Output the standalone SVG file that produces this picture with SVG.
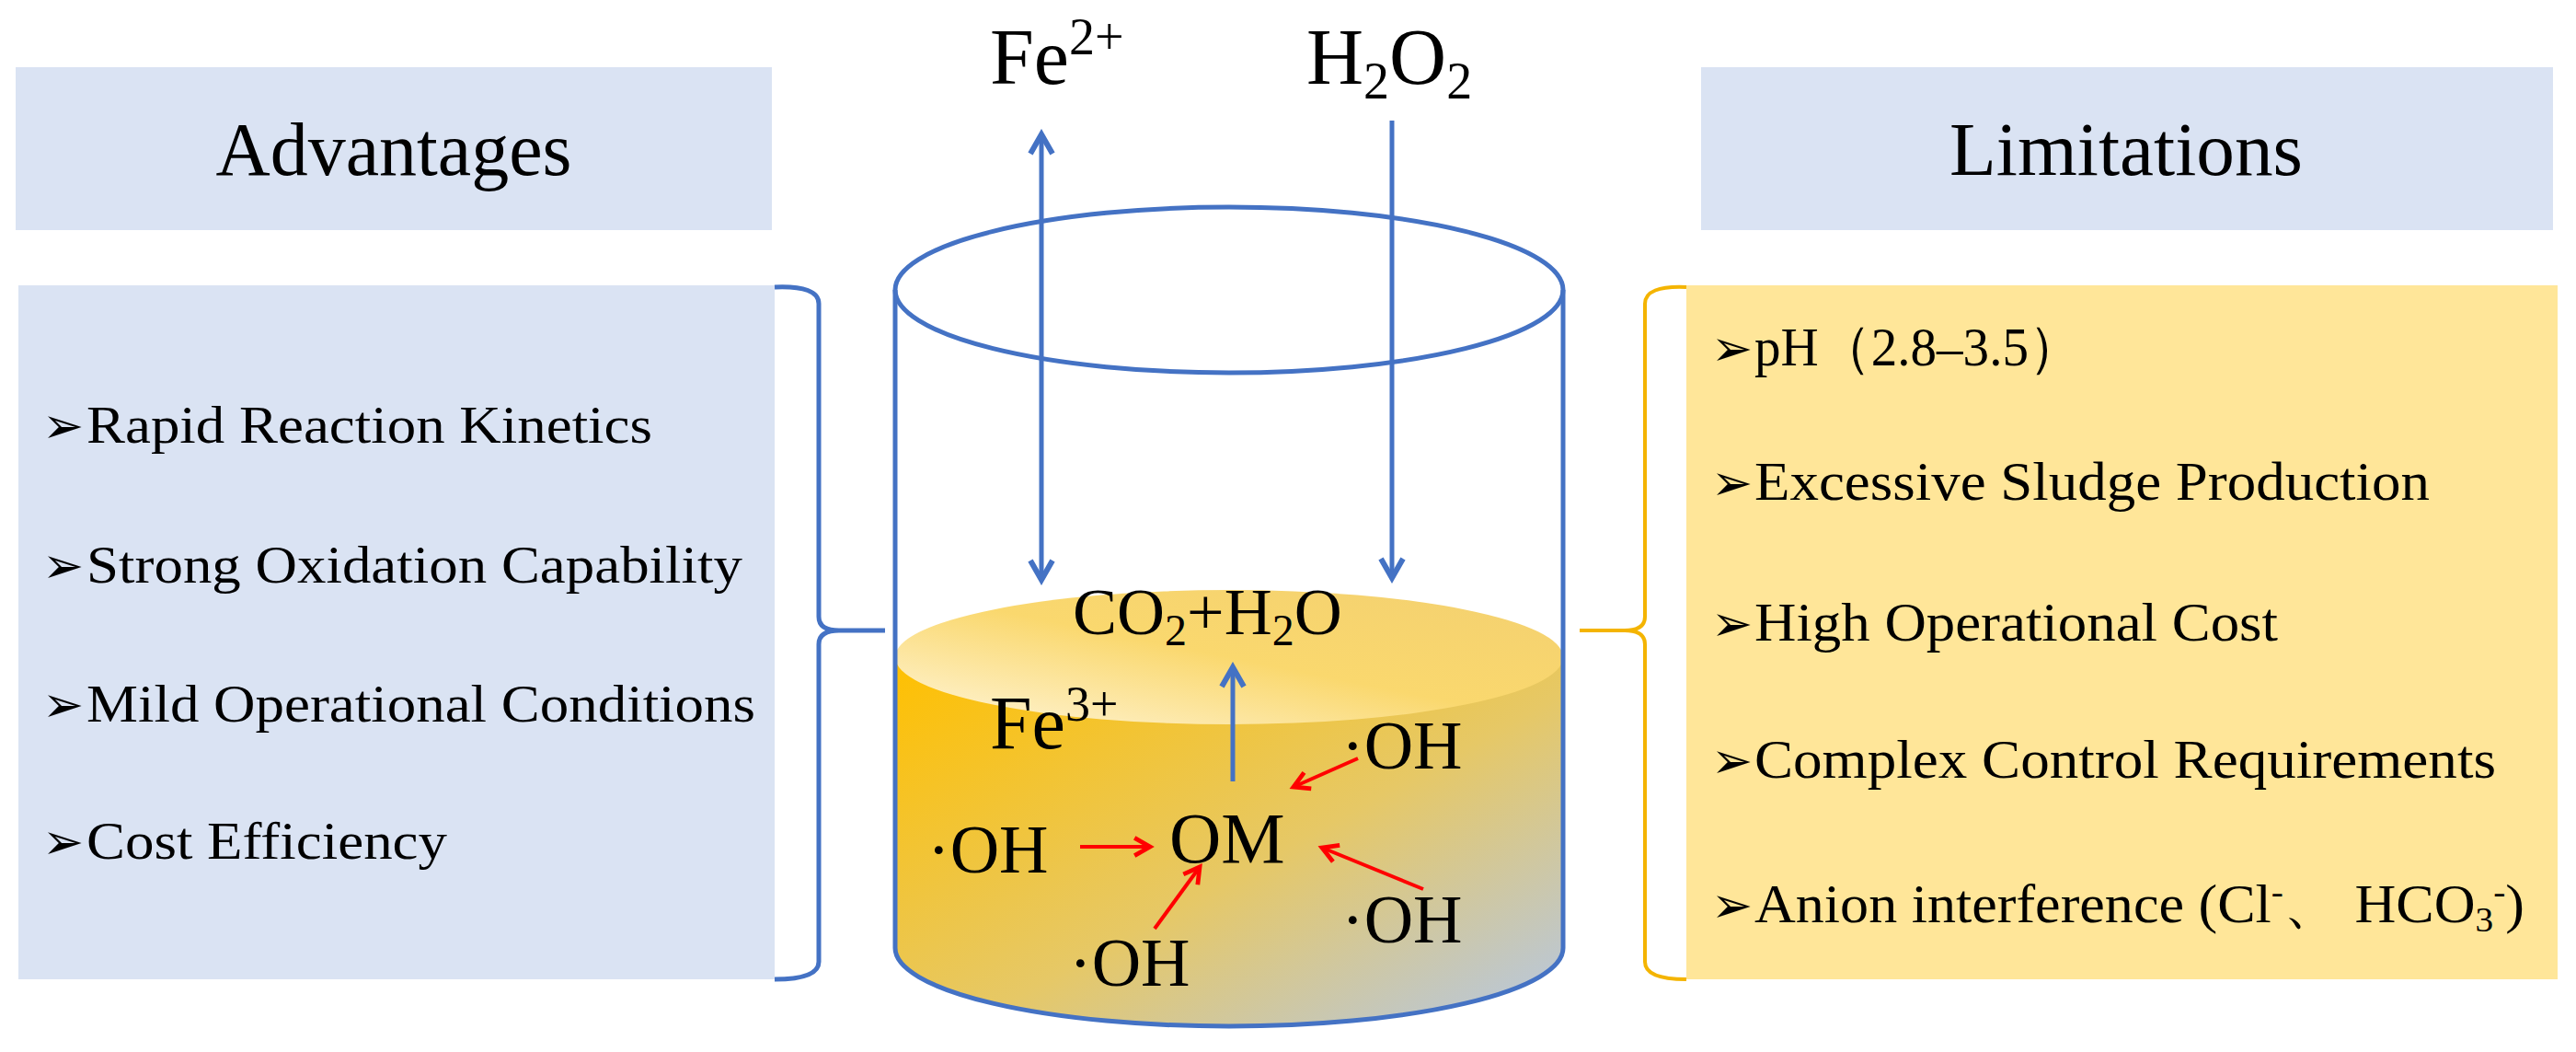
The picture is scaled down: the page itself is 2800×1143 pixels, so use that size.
<svg xmlns="http://www.w3.org/2000/svg" width="2800" height="1143" viewBox="0 0 2800 1143">
<defs>
<style>
.t{font-family:"Liberation Serif","Times New Roman",serif;fill:#000}
.ar{font-family:"DejaVu Sans",sans-serif;fill:#000}
.blue{stroke:#4472c4;stroke-width:5;fill:none}
.red{stroke:#ff0000;stroke-width:4;fill:none}
</style>
<marker id="ba" viewBox="0 0 10 10" refX="8" refY="5" markerWidth="6" markerHeight="6" orient="auto-start-reverse"><path d="M1,1 L8,5 L1,9" fill="none" stroke="#4472c4" stroke-width="2"/></marker>
<marker id="ra" viewBox="0 0 10 10" refX="8" refY="5" markerWidth="6" markerHeight="6" orient="auto"><path d="M1,1 L8,5 L1,9" fill="none" stroke="#ff0000" stroke-width="2"/></marker>
<linearGradient id="liq" x1="0" y1="0" x2="1" y2="1">
<stop offset="0" stop-color="#ffc000"/><stop offset="0.55" stop-color="#e6c866"/><stop offset="1" stop-color="#b4c7e7"/></linearGradient>
<linearGradient id="surf" x1="0" y1="1" x2="1" y2="0">
<stop offset="0" stop-color="#fff6dc"/><stop offset="0.5" stop-color="#fad86e"/><stop offset="1" stop-color="#f3d070"/></linearGradient>
</defs>
<rect width="2800" height="1143" fill="#fff"/>
<g id="adv-head"><rect x="17" y="73" width="822" height="177" fill="#dae3f3"/><text class="t" x="428" y="190" font-size="82" text-anchor="middle">Advantages</text></g>
<g id="adv-list"><rect x="20" y="310" width="822" height="754" fill="#dae3f3"/>
<text class="ar" x="46" y="481" font-size="54">➢</text><text class="t" x="94" y="481" font-size="56" textLength="615" lengthAdjust="spacingAndGlyphs">Rapid Reaction Kinetics</text>
<text class="ar" x="46" y="633" font-size="54">➢</text><text class="t" x="94" y="633" font-size="56" textLength="713" lengthAdjust="spacingAndGlyphs">Strong Oxidation Capability</text>
<text class="ar" x="46" y="784" font-size="54">➢</text><text class="t" x="94" y="784" font-size="56" textLength="727" lengthAdjust="spacingAndGlyphs">Mild Operational Conditions</text>
<text class="ar" x="46" y="933" font-size="54">➢</text><text class="t" x="94" y="933" font-size="56" textLength="392" lengthAdjust="spacingAndGlyphs">Cost Efficiency</text></g>
<g id="lim-head"><rect x="1849" y="73" width="926" height="177" fill="#dae3f3"/><text class="t" x="2311" y="190" font-size="82" text-anchor="middle" textLength="384" lengthAdjust="spacingAndGlyphs">Limitations</text></g>
<g id="lim-list"><rect x="1833" y="310" width="947" height="754" fill="#ffe699"/>
<text class="ar" x="1860" y="397" font-size="54">➢</text><text class="t" x="1907" y="397" font-size="60" textLength="355" lengthAdjust="spacingAndGlyphs">pH（2.8–3.5）</text>
<text class="ar" x="1860" y="543" font-size="54">➢</text><text class="t" x="1907" y="543" font-size="60" textLength="734" lengthAdjust="spacingAndGlyphs">Excessive Sludge Production</text>
<text class="ar" x="1860" y="696" font-size="54">➢</text><text class="t" x="1907" y="696" font-size="60" textLength="569" lengthAdjust="spacingAndGlyphs">High Operational Cost</text>
<text class="ar" x="1860" y="845" font-size="54">➢</text><text class="t" x="1907" y="845" font-size="60" textLength="806" lengthAdjust="spacingAndGlyphs">Complex Control Requirements</text>
<text class="ar" x="1860" y="1002" font-size="54">➢</text><text class="t" x="1907" y="1002" font-size="60" textLength="837" lengthAdjust="spacingAndGlyphs">Anion interference (Cl<tspan dy="-20" font-size="38">-</tspan><tspan dy="20">、 HCO</tspan><tspan dy="10" font-size="38">3</tspan><tspan dy="-30" font-size="38">-</tspan><tspan dy="20">)</tspan></text></g>
<g id="beaker">
<path d="M973,714 V1030 A363,85 0 0 0 1699,1030 V714 Z" fill="url(#liq)"/>
<ellipse cx="1336" cy="714" rx="363" ry="73" fill="url(#surf)"/>
<ellipse cx="1336" cy="315" rx="363" ry="90" class="blue"/>
<path d="M973,315 V1030 A363,85 0 0 0 1699,1030 V315" class="blue"/>
</g>
<g id="labels">
<text class="t" x="1076" y="91" font-size="86">Fe<tspan dy="-32" font-size="56">2+</tspan></text>
<text class="t" x="1420" y="91" font-size="86">H<tspan dy="16" font-size="56">2</tspan><tspan dy="-16">O</tspan><tspan dy="16" font-size="56">2</tspan></text>
<text class="t" x="1166" y="689" font-size="72">CO<tspan dy="12" font-size="48">2</tspan><tspan dy="-12">+H</tspan><tspan dy="12" font-size="48">2</tspan><tspan dy="-12">O</tspan></text>
<text class="t" x="1076" y="813" font-size="82">Fe<tspan dy="-30" font-size="54">3+</tspan></text>
<text class="t" x="1271" y="937" font-size="78">OM</text>
<text class="t" x="1008" y="948" font-size="74">·OH</text>
<text class="t" x="1458" y="835" font-size="74">·OH</text>
<text class="t" x="1458" y="1024" font-size="74">·OH</text>
<text class="t" x="1162" y="1071" font-size="74">·OH</text>
</g>
<g id="connectors">
<path d="M842,312 Q890,310 890,330 V670 Q890,685 912,685 H962 M912,685 Q890,685 890,700 V1045 Q890,1064 842,1064" class="blue" stroke-width="4"/>
<path d="M1833,312 Q1788,310 1788,330 V670 Q1788,685 1766,685 H1717 M1766,685 Q1788,685 1788,700 V1045 Q1788,1064 1833,1064" fill="none" stroke="#f4b400" stroke-width="4"/>
<line x1="1132" y1="146" x2="1132" y2="630" class="blue" marker-start="url(#ba)" marker-end="url(#ba)"/>
<line x1="1513" y1="131" x2="1513" y2="628" class="blue" marker-end="url(#ba)"/>
<line x1="1340" y1="849" x2="1340" y2="725" class="blue" marker-end="url(#ba)"/>
<line x1="1174" y1="920" x2="1250" y2="920" class="red" marker-end="url(#ra)"/>
<line x1="1476" y1="824" x2="1406" y2="855" class="red" marker-end="url(#ra)"/>
<line x1="1547" y1="966" x2="1437" y2="921" class="red" marker-end="url(#ra)"/>
<line x1="1255" y1="1009" x2="1304" y2="942" class="red" marker-end="url(#ra)"/>
</g>
</svg>
